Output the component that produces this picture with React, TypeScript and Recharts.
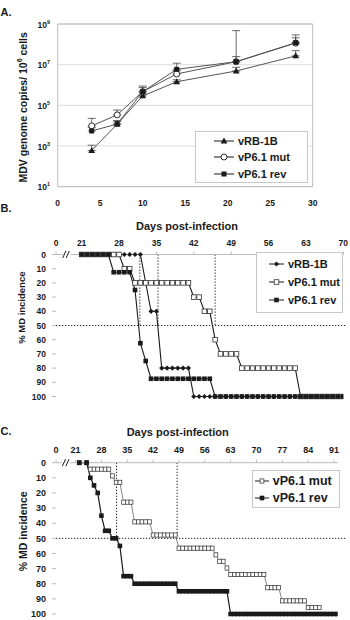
import React from 'react';
import {
  LineChart, Line, XAxis, YAxis, CartesianGrid, ErrorBar,
  ReferenceLine, ReferenceArea, ReferenceDot, Legend,
} from 'recharts';

const FONT = '"Liberation Sans", Arial, Helvetica, sans-serif';
const INK = '#1a1a1a';

// ---- A: MDV genome copies per 10^6 cells
const aDays = [4, 7, 10, 14, 21, 28];
const aRB1B = [600, 12000, 290000, 1450000, 4900000, 27000000];
const aRB1BTop = [1100, 18000, 360000, 1800000, 7400000, 49000000];
const aMut = [9800, 34000, 470000, 3500000, 14000000, 115000000];
const aMutTop = [23000, 59000, 890000, 5000000, 25000000, 290000000];
const aRev = [5500, 12000, 470000, 5900000, 14000000, 120000000];
const aRevTop = [8000, 16000, 750000, 11800000, 470000000, 210000000];
const aTicksX = [0, 5, 10, 15, 20, 25, 30];
const aTicksY = [10, 1e3, 1e5, 1e7, 1e9];

// ---- B: % MD incidence, three viruses
const bDays = [21, 22, 23, 24, 25, 26, 27, 28, 29, 30, 31, 32, 33, 34, 35, 36, 37, 38, 39, 40, 41, 42, 43, 44, 45,
  46, 47, 48, 49, 50, 51, 52, 53, 54, 55, 56, 57, 58, 59, 60, 61, 62, 63, 64, 65, 66, 67, 68, 69, 70];
const bRB1B = [0, 0, 0, 0, 0, 0, 0, 0, 0, 0, 0, 0, null, 40, 40, 80, 80, 80, 80, 80, 80, 100, 100, 100, 100,
  100, 100, 100, 100, 100, 100, 100, 100, 100, 100, 100, 100, 100, 100, 100, 100, 100, 100, 100, 100, 100, 100, 100, 100, 100];
const bMut = [0, 0, 0, 0, 0, 0, 0, 0, 10, 10, 20, 20, 20, 20, 20, 20, 20, 20, 20, 20, 20, 30, 30, 40, 40,
  60, 70, 70, 70, 70, 80, 80, 80, 80, 80, 80, 80, 80, 80, 80, 80, 100, 100, 100, 100, 100, 100, 100, 100, 100];
const bRev = [0, 0, 0, 0, 0, 0, 12.5, 12.5, 12.5, 12.5, 25, 62.5, 75, 87.5, 87.5, 87.5, 87.5, 87.5, 87.5, 87.5, 87.5, 87.5, 87.5, 87.5, 87.5,
  100, 100, 100, 100, 100, 100, 100, 100, 100, 100, 100, 100, 100, 100, 100, 100, 100, 100, 100, 100, 100, 100, 100, 100, 100];
const bTickDays = [21, 28, 35, 42, 49, 56, 63, 70];
const bAxisStart = 16.2; // broken axis, this spot carries the "0" label
const bAxisEnd = 70;
const bMedianDays = [31.9, 35.3, 46];
const bBreakDay = 18.2;

// ---- C: % MD incidence, two viruses
const cDays = [22, 23, 24, 25, 26, 27, 28, 29, 30, 31, 32, 33, 34, 35, 36, 37, 38, 39, 40, 41, 42, 43, 44, 45, 46, 47, 48,
  49, 50, 51, 52, 53, 54, 55, 56, 57, 58, 59, 60, 61, 62, 63, 64, 65, 66, 67, 68, 69, 70, 71, 72, 73, 74, 75, 76, 77, 78,
  79, 80, 81, 82, 83, 84, 85, 86, 87, 88, 89, 90, 91, 92];
const cRev = [0, null, 0, 10, 15, 20, 35, 45, 45, 50, 50, 55, 75, 75, 75, 80, 80, 80, 80, 80, 80, 80, 80, 80, 80, 80, 80,
  85, 85, 85, 85, 85, 85, 85, 85, 85, 85, 85, 85, 85, 85, 100, 100, 100, 100, 100, 100, 100, 100, 100, 100, 100, 100, 100, 100, 100, 100,
  100, 100, 100, 100, 100, 100, 100, 100, 100, 100, 100, 100, 100, 100];
const cMut = [0, null, 0, 4.3, 4.3, 4.3, 4.3, 4.3, 4.3, 8.7, 13, 13, 26.1, 26.1, 26.1, 39.1, 39.1, 39.1, 39.1, 39.1, 47.8, 47.8, 47.8, 47.8, 47.8, 47.8, 47.8,
  56.5, 56.5, 56.5, 56.5, 56.5, 56.5, 56.5, 56.5, 56.5, 56.5, 60.9, 65.2, 65.2, 69.6, 73.9, 73.9, 73.9, 73.9, 73.9, 73.9, 73.9, 73.9, 73.9, 73.9, 82.6, 82.6, 82.6, 82.6, 91.3, 91.3,
  91.3, 91.3, 91.3, 91.3, 91.3, 95.7, 95.7, 95.7, 95.7, null, null, null, null, null];
const cTickDays = [21, 28, 35, 42, 49, 56, 63, 70, 77, 84, 91];
const cAxisStart = 15.7;
const cAxisEnd = 92;
const cMedianDays = [32.1, 48.5];
const cBreakDay = 18.5;

const pctTicks = [0, 10, 20, 30, 40, 50, 60, 70, 80, 90, 100];

const aData = aDays.map((day, i) => ({
  day,
  rb: aRB1B[i], rbErr: [0, aRB1BTop[i] - aRB1B[i]],
  mut: aMut[i], mutErr: [0, aMutTop[i] - aMut[i]],
  rev: aRev[i], revErr: [0, aRevTop[i] - aRev[i]],
}));
const bData = bDays.map((day, i) => ({ day, rb: bRB1B[i], mut: bMut[i], rev: bRev[i] }));
const cData = cDays.map((day, i) => ({ day, mut: cMut[i], rev: cRev[i] }));

// markers
const mkTri = (cx: number, cy: number) => (
  <path d={`M${cx},${cy - 3.6}L${cx + 3.4},${cy + 2.4}L${cx - 3.4},${cy + 2.4}Z`} fill={INK} />
);
const mkCircle = (cx: number, cy: number) => <circle cx={cx} cy={cy} r={3} fill="#fff" stroke={INK} strokeWidth={0.9} />;
const mkSquare = (s: number) => (cx: number, cy: number) => (
  <rect x={cx - s / 2} y={cy - s / 2} width={s} height={s} fill={INK} />
);
const mkOpen = (w: number, h: number, c = '#333') => (cx: number, cy: number) => (
  <rect x={cx - w / 2} y={cy - h / 2} width={w} height={h} fill="#fff" stroke={c} strokeWidth={0.8} />
);
const mkDiamond = (cx: number, cy: number) => (
  <path d={`M${cx},${cy - 2.6}L${cx + 2.6},${cy}L${cx},${cy + 2.6}L${cx - 2.6},${cy}Z`} fill={INK} />
);

const asDot = (draw: (cx: number, cy: number) => React.ReactElement) => (p: any) => (
  <g key={`dot-${p.index}`}>{p.cx == null || p.cy == null ? null : draw(p.cx, p.cy)}</g>
);

const BreakMark = (p: any) => (
  <g>
    <rect x={p.cx - 4} y={p.cy - 1} width={8} height={2} fill="#fff" />
    <line x1={p.cx - 4} y1={p.cy + 3.5} x2={p.cx - 0.8} y2={p.cy - 3.5} stroke={INK} strokeWidth={1} />
    <line x1={p.cx - 0.5} y1={p.cy + 3.5} x2={p.cx + 2.7} y2={p.cy - 3.5} stroke={INK} strokeWidth={1} />
  </g>
);

const PowTick = (p: any) => {
  const exp = Math.round(Math.log10(p.payload.value));
  return (
    <text x={p.x} y={p.y} dy={3.5} textAnchor="end" fontFamily={FONT} fontWeight="bold" fontSize={8.5} fill={INK}>
      10<tspan fontSize={5.5} dy={-4}>{exp}</tspan>
    </text>
  );
};

type Item = { name: string; marker: (cx: number, cy: number) => React.ReactElement };

const LegendBox = ({ items, width, height, fontSize, lineLen, padLeft, rowH }:
  { items: Item[]; width: number; height: number; fontSize: number; lineLen: number; padLeft: number; rowH: number }) => (
  <div style={{
    width, height, boxSizing: 'border-box', border: '1px solid #c8c8c8', background: '#fff',
    display: 'flex', flexDirection: 'column', justifyContent: 'center', paddingLeft: padLeft,
    fontFamily: FONT, fontWeight: 'bold', fontSize, color: INK,
  }}>
    {items.map((it) => (
      <div key={it.name} style={{ display: 'flex', alignItems: 'center', height: rowH, whiteSpace: 'nowrap' }}>
        <svg width={lineLen} height={10} style={{ marginRight: 4, overflow: 'visible' }}>
          <line x1={0} x2={lineLen} y1={5} y2={5} stroke={INK} strokeWidth={1} />
          {it.marker(lineLen / 2, 5)}
        </svg>
        <span>{it.name}</span>
      </div>
    ))}
  </div>
);

const Txt = ({ x, y, size, rotate, children }: { x: number; y: number; size: number; rotate?: boolean; children: React.ReactNode }) => (
  <div style={{
    position: 'absolute', left: x - 150, top: y - size * 0.6, width: 300, height: size * 1.2,
    lineHeight: `${size * 1.2}px`, textAlign: 'center', whiteSpace: 'nowrap',
    fontFamily: FONT, fontWeight: 'bold', fontSize: size, color: INK,
    transform: rotate ? 'rotate(-90deg)' : undefined,
  }}>{children}</div>
);

const tickB = { fontSize: 8.5, fontWeight: 'bold', fill: INK, fontFamily: FONT };
const tickC = { fontSize: 9, fontWeight: 'bold', fill: INK, fontFamily: FONT };
const dotted = { stroke: '#222', strokeWidth: 1, strokeDasharray: '1.3 1.7' };

const PanelA = () => (
  <div style={{ position: 'absolute', left: 0, top: 0, width: 350, height: 210 }}>
    <LineChart width={350} height={210} data={aData} margin={{ top: 24, right: 37.3, bottom: 3.3, left: 0 }}>
      <CartesianGrid vertical={false} stroke="#dcdcdc" />
      <ReferenceArea x1={0} x2={30} y1={10} y2={1e9} fill="none" stroke="#bdbdbd" />
      <XAxis dataKey="day" type="number" domain={[0, 30]} ticks={aTicksX} interval={0} height={20}
        tickLine={false} axisLine={false} tickSize={6} tickMargin={7}
        tick={{ fontSize: 8.5, fontWeight: 'bold', fill: INK, fontFamily: FONT }} />
      <YAxis type="number" scale="log" domain={[10, 1e9]} ticks={aTicksY} interval={0} width={57.7}
        tickLine={false} axisLine={false} tickSize={0} tickMargin={7.7} tick={<PowTick />} />
      <Line dataKey="rb" stroke="#555" strokeWidth={1} dot={asDot(mkTri)} isAnimationActive={false}>
        <ErrorBar dataKey="rbErr" direction="y" width={4} stroke="#444" strokeWidth={0.8} />
      </Line>
      <Line dataKey="mut" stroke="#555" strokeWidth={1} dot={asDot(mkCircle)} isAnimationActive={false}>
        <ErrorBar dataKey="mutErr" direction="y" width={4} stroke="#444" strokeWidth={0.8} />
      </Line>
      <Line dataKey="rev" stroke="#555" strokeWidth={1} dot={asDot(mkSquare(5))} isAnimationActive={false}>
        <ErrorBar dataKey="revErr" direction="y" width={4} stroke="#444" strokeWidth={0.8} />
      </Line>
      <Legend layout="vertical" align="center" verticalAlign="middle"
        wrapperStyle={{ left: 195, top: 131, width: 113, height: 52 }}
        content={() => (
          <LegendBox width={113} height={52} fontSize={11} lineLen={20} padLeft={18} rowH={16.5}
            items={[
              { name: 'vRB-1B', marker: mkTri },
              { name: 'vP6.1 mut', marker: mkCircle },
              { name: 'vP6.1 rev', marker: mkSquare(5) },
            ]} />
        )} />
    </LineChart>
    <Txt x={6} y={12.5} size={11}>A.</Txt>
    <Txt x={22.5} y={107} size={10.5} rotate>
      MDV genome copies/ 10<sup style={{ fontSize: 7, verticalAlign: 'super', lineHeight: 0 }}>6</sup> cells
    </Txt>
  </div>
);

const PanelB = () => (
  <div style={{ position: 'absolute', left: 0, top: 200, width: 350, height: 205 }}>
    <LineChart width={350} height={205} data={bData} margin={{ top: 40.5, right: 6.7, bottom: 8.5, left: 0 }}>
      <XAxis dataKey="day" type="number" orientation="top" domain={[bAxisStart, bAxisEnd]}
        ticks={[bAxisStart, ...bTickDays]} tickFormatter={(v: number) => (v < bTickDays[0] ? '0' : String(v))}
        interval={0} height={14} tickSize={3} tickMargin={5.5} allowDataOverflow
        axisLine={{ stroke: '#bbb' }} tickLine={{ stroke: '#bbb' }} tick={tickB} />
      <YAxis type="number" reversed domain={[0, 100]} ticks={pctTicks} interval={0} width={56}
        tickSize={4} tickMargin={6} axisLine={false} tickLine={{ stroke: '#bbb' }} tick={tickB} />
      <ReferenceLine segment={[{ x: bAxisStart, y: 50 }, { x: 70.7, y: 50 }]} ifOverflow="visible" {...dotted} />
      {bMedianDays.map((d) => (
        <ReferenceLine key={d} segment={[{ x: d, y: 0 }, { x: d, y: 50 }]} ifOverflow="visible" {...dotted} />
      ))}
      <ReferenceDot x={bBreakDay} y={0} shape={BreakMark} ifOverflow="visible" />
      <Line dataKey="rb" stroke={INK} strokeWidth={1.1} connectNulls dot={asDot(mkDiamond)} isAnimationActive={false} />
      <Line dataKey="mut" stroke={INK} strokeWidth={1.1} connectNulls dot={asDot(mkOpen(4.6, 4.6))} isAnimationActive={false} />
      <Line dataKey="rev" stroke={INK} strokeWidth={1.1} connectNulls dot={asDot(mkSquare(4.6))} isAnimationActive={false} />
      <Legend layout="vertical" align="center" verticalAlign="middle"
        wrapperStyle={{ left: 256, top: 51.7, width: 87, height: 61 }}
        content={() => (
          <LegendBox width={87} height={61} fontSize={11} lineLen={15} padLeft={12} rowH={18}
            items={[
              { name: 'vRB-1B', marker: mkDiamond },
              { name: 'vP6.1 mut', marker: mkOpen(4.6, 4.6) },
              { name: 'vP6.1 rev', marker: mkSquare(4.6) },
            ]} />
        )} />
    </LineChart>
    <Txt x={6} y={8.7} size={11}>B.</Txt>
    <Txt x={187} y={26.7} size={11}>Days post-infection</Txt>
    <Txt x={22} y={108} size={9.5} rotate>% MD incidence</Txt>
  </div>
);

const PanelC = () => (
  <div style={{ position: 'absolute', left: 0, top: 400, width: 350, height: 220 }}>
    <LineChart width={350} height={220} data={cData} margin={{ top: 48.7, right: 12.3, bottom: 6, left: 0 }}>
      <XAxis dataKey="day" type="number" orientation="top" domain={[cAxisStart, cAxisEnd]}
        ticks={[cAxisStart, ...cTickDays]} tickFormatter={(v: number) => (v < cTickDays[0] ? '0' : String(v))}
        interval={0} height={14} tickSize={3} tickMargin={6.7} allowDataOverflow
        axisLine={{ stroke: '#bbb' }} tickLine={{ stroke: '#bbb' }} tick={tickC} />
      <YAxis type="number" reversed domain={[0, 100]} ticks={pctTicks} interval={0} width={56}
        tickSize={4} tickMargin={6} axisLine={false} tickLine={{ stroke: '#bbb' }} tick={tickC} />
      <ReferenceLine segment={[{ x: cAxisStart, y: 50 }, { x: 94.5, y: 50 }]} ifOverflow="visible" {...dotted} />
      {cMedianDays.map((d) => (
        <ReferenceLine key={d} segment={[{ x: d, y: 0 }, { x: d, y: 50 }]} ifOverflow="visible" {...dotted} />
      ))}
      <ReferenceDot x={cBreakDay} y={0} shape={BreakMark} ifOverflow="visible" />
      <Line dataKey="mut" stroke="#777" strokeWidth={0.9} connectNulls dot={asDot(mkOpen(3.8, 4.2, '#444'))} isAnimationActive={false} />
      <Line dataKey="rev" stroke={INK} strokeWidth={1.2} connectNulls dot={asDot(mkSquare(4.6))} isAnimationActive={false} />
      <Legend layout="vertical" align="center" verticalAlign="middle"
        wrapperStyle={{ left: 251.7, top: 70, width: 88.3, height: 38 }}
        content={() => (
          <LegendBox width={88.3} height={38} fontSize={12.5} lineLen={14} padLeft={2} rowH={17}
            items={[
              { name: 'vP6.1 mut', marker: mkOpen(3.8, 4.2, '#444') },
              { name: 'vP6.1 rev', marker: mkSquare(4.6) },
            ]} />
        )} />
    </LineChart>
    <Txt x={6} y={31.7} size={11}>C.</Txt>
    <Txt x={177.7} y={33} size={11}>Days post-infection</Txt>
    <Txt x={23} y={131} size={10.5} rotate>% MD incidence</Txt>
  </div>
);

export default function App() {
  return (
    <div style={{ position: 'absolute', left: 0, top: 0, width: 350, height: 620, background: '#fff', overflow: 'hidden' }}>
      <PanelA />
      <PanelB />
      <PanelC />
    </div>
  );
}
